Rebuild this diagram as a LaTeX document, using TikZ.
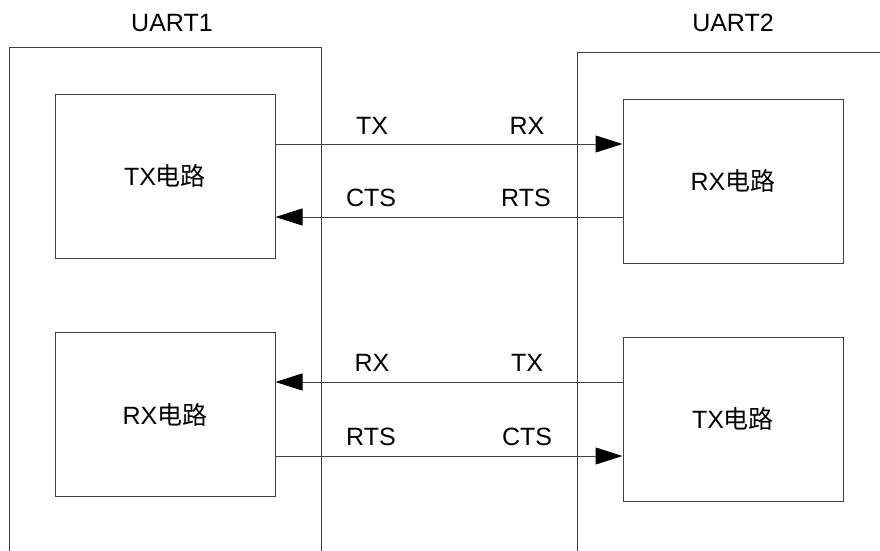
\documentclass[tikz,border=0pt]{standalone}
\usepackage{fontspec}
\setmainfont{Liberation Sans}
\newfontfamily\cjk{Noto Sans CJK SC}
\usetikzlibrary{arrows.meta}

\begin{document}
\begin{tikzpicture}[x=1pt,y=-1pt,
  every node/.style={font=\fontsize{25}{30}\selectfont,inner sep=0pt},
  blk/.style={draw=black!75,line width=1pt,minimum width=220pt,minimum height=164pt},
  sig/.style={draw=black!75,line width=1pt,-{Triangle[length=27pt,width=17pt,color=black]}}]
\useasboundingbox (0,0) rectangle (880,551);
\clip (0,0) rectangle (880,551);
% the two UART frames, open at the bottom
\draw[black!75,line width=1pt] (9,560) -- (9,48) -- (321,48) -- (321,560);
\draw[black!75,line width=1pt] (577,560) -- (577,53) -- (890,53);
\node (u1) at (172,23) {UART1}; \node (u2) at (733,23) {UART2};
% circuits
\node[blk] (tx1) at (165,176) {TX{\cjk 电路}};
\node[blk] (rx1) at (165,414.5) {RX{\cjk 电路}};
\node[blk] (rx2) at (733,181) {RX{\cjk 电路}};
\node[blk] (tx2) at (733,419) {TX{\cjk 电路}};
% signal lines
\draw[sig] (tx1.east |- 0,144) -- (rx2.west |- 0,144);
\draw[sig] (rx2.west |- 0,217) -- (tx1.east |- 0,217);
\draw[sig] (tx2.west |- 0,382) -- (rx1.east |- 0,382);
\draw[sig] (rx1.east |- 0,456) -- (tx2.west |- 0,456);
\node (s1) at (372,126) {TX};  \node (s2) at (527,126) {RX};
\node (s3) at (371,198) {CTS}; \node (s4) at (526,198) {RTS};
\node (s5) at (372,363) {RX};  \node (s6) at (527,363) {TX};
\node (s7) at (371,437) {RTS}; \node (s8) at (527,437) {CTS};
\end{tikzpicture}
\end{document}
